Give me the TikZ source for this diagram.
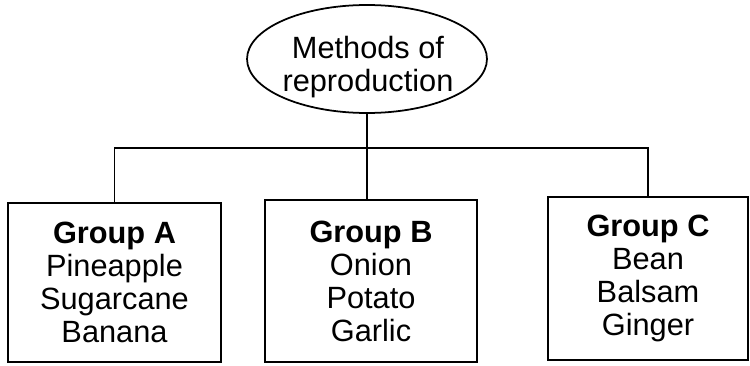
\documentclass[tikz,border=0pt]{standalone}
\usepackage{fontspec}
\setmainfont{Liberation Sans}
\usetikzlibrary{shapes.geometric}
\begin{document}
\begin{tikzpicture}[x=0.02cm, y=-0.02cm,
  every node/.style={font=\fontsize{17.5}{18.8}\selectfont, align=center},
  outline/.style={draw=black, line width=1pt},
  groupbox/.style={outline, rectangle, inner sep=0pt},
  link/.style={draw=black, line width=1pt}]
  \useasboundingbox (0,0) rectangle (750,365);
  % root of the tree, its caption sits a little below centre
  \node[outline, ellipse, minimum width=4.8cm, minimum height=2.16cm, inner sep=0pt]
    (root) at (367,59) {};
  \node (rootlabel) at (368,67) {Methods of\\reproduction};
  % the three groups
  \node[groupbox, minimum width=4.26cm, minimum height=3.18cm] (A) at (114.5,282.5)
    {\textbf{Group A}\\Pineapple\\Sugarcane\\Banana};
  \node[groupbox, minimum width=4.24cm, minimum height=3.24cm] (B) at (371,281)
    {\textbf{Group B}\\Onion\\Potato\\Garlic};
  \node[groupbox, minimum width=4.0cm, minimum height=3.26cm] (C) at (648,278.5)
    {\textbf{Group C}\\Bean\\Balsam\\Ginger};
  % branching connectors
  \coordinate (bus) at (367,148);
  \draw[link] (root.south) -- (root.south |- B.north);
  \draw[link] (A.north) |- (bus) -| (C.north);
\end{tikzpicture}
\end{document}
